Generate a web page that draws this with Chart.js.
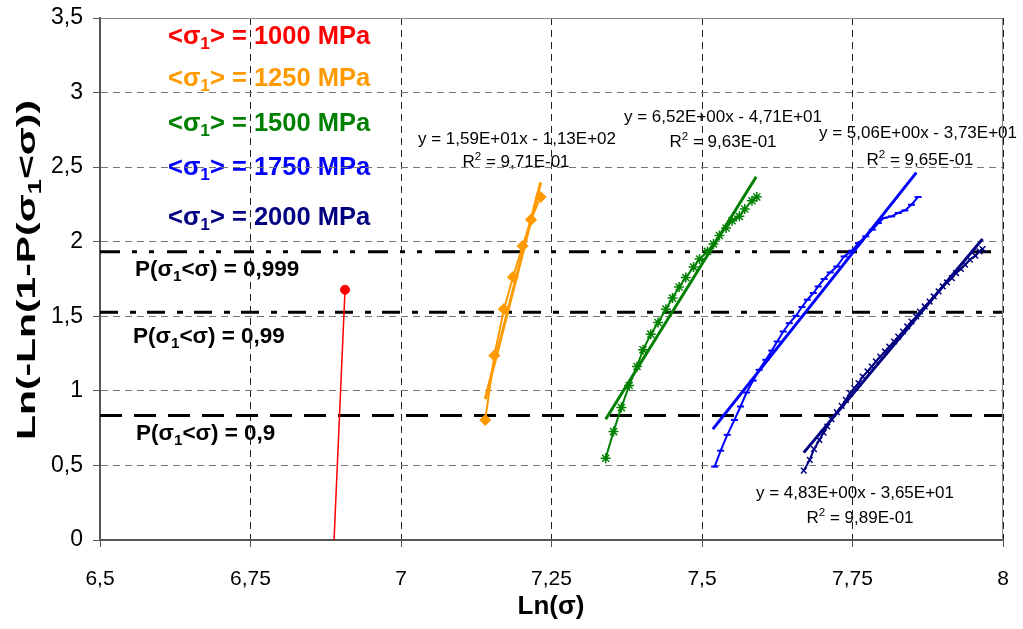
<!DOCTYPE html>
<html>
<head>
<meta charset="utf-8">
<script src="https://cdn.jsdelivr.net/npm/chart.js@4.4.1/dist/chart.umd.min.js"></script>
<style>
  html, body { margin: 0; padding: 0; background: #fff; }
  canvas { display: block; }
</style>
</head>
<body>
<canvas id="weibull" width="1023" height="629"></canvas>
<script>
const FONT = "'Liberation Sans', Arial, sans-serif";

// x = Ln(sigma), y = Ln(-Ln(1-P))
const x1000 = [6.907, 6.885];
const y1000 = [1.678, -0.35];

const x1250 = [7.140, 7.155, 7.171, 7.186, 7.202, 7.216, 7.232];
const y1250 = [0.805, 1.237, 1.548, 1.763, 1.971, 2.148, 2.300];

const x1500 = [7.340, 7.353, 7.366, 7.379, 7.392, 7.402, 7.415, 7.427, 7.440, 7.451, 7.462, 7.473,
               7.486, 7.496, 7.509, 7.519, 7.529, 7.540, 7.550, 7.562, 7.571, 7.583, 7.591];
const y1500 = [0.548, 0.727, 0.888, 1.036, 1.163, 1.275, 1.380, 1.458, 1.548, 1.622, 1.696, 1.760,
               1.830, 1.884, 1.935, 1.985, 2.042, 2.092, 2.141, 2.170, 2.219, 2.275, 2.300];

const x1750 = [7.521, 7.531, 7.542, 7.554, 7.564, 7.574, 7.585, 7.595, 7.606, 7.616, 7.625, 7.635,
               7.645, 7.656, 7.666, 7.675, 7.685, 7.693, 7.703, 7.713, 7.724, 7.736, 7.749, 7.760,
               7.772, 7.783, 7.793, 7.802, 7.815, 7.826, 7.837, 7.848, 7.859];
const y1750 = [0.492, 0.599, 0.705, 0.805, 0.895, 0.989, 1.069, 1.141, 1.208, 1.270, 1.331, 1.398,
               1.454, 1.503, 1.562, 1.611, 1.656, 1.700, 1.750, 1.794, 1.834, 1.901, 1.940, 1.991,
               2.036, 2.081, 2.125, 2.159, 2.170, 2.193, 2.210, 2.248, 2.300];

const x2000 = [7.669, 7.679, 7.686, 7.695, 7.702, 7.708, 7.715, 7.724, 7.732, 7.739, 7.746, 7.753,
               7.760, 7.767, 7.775, 7.782, 7.789, 7.796, 7.804, 7.811, 7.819, 7.826, 7.834, 7.841,
               7.848, 7.856, 7.862, 7.870, 7.878, 7.885, 7.893, 7.900, 7.907, 7.915, 7.922, 7.930,
               7.937, 7.945, 7.954, 7.961, 7.966];
const y2000 = [0.465, 0.537, 0.609, 0.671, 0.720, 0.761, 0.810, 0.857, 0.899, 0.940, 0.985, 1.018,
               1.052, 1.096, 1.130, 1.163, 1.197, 1.230, 1.264, 1.297, 1.331, 1.364, 1.398, 1.432,
               1.465, 1.499, 1.532, 1.566, 1.599, 1.633, 1.667, 1.700, 1.727, 1.756, 1.790, 1.817,
               1.846, 1.879, 1.906, 1.935, 1.951];

// linear trend lines, end points as drawn
const trendX = [[7.140, 7.232], [7.340, 7.590], [7.518, 7.856], [7.669, 7.966]];
const trendY = [[0.944, 2.398], [0.810, 2.436], [0.743, 2.463], [0.586, 2.018]];
const eqTexts = ['y = 1,59E+01x - 1,13E+02', 'y = 6,52E+00x - 4,71E+01',
                 'y = 5,06E+00x - 3,73E+01', 'y = 4,83E+00x - 3,65E+01'];
const r2Texts = ['9,71E-01', '9,63E-01', '9,65E-01', '9,89E-01'];

// probability levels
const pLabels = ['0,999', '0,99', '0,9'];
const pLineY = [1.933, 1.527, 0.834];

const stressLabels = ['1000', '1250', '1500', '1750', '2000'];
const colors = ['#ff0000', '#ff9900', '#008000', '#0000ff', '#000080'];

const pts = (xs, ys) => xs.map((x, i) => ({ x: x, y: ys[i] }));
const comma = v => String(Math.round(v * 100) / 100).replace('.', ',');

const seriesX = [x1000, x1250, x1500, x1750, x2000];
const seriesY = [y1000, y1250, y1500, y1750, y2000];
const markers = ['circle', 'rectRot', 'star', 'line', 'crossRot'];
const markerSize = [4.5, 5, 5, 3.5, 4];

const datasets = [];
pLineY.forEach((y, i) => {
  datasets.push({
    data: [{ x: 6.5, y: y }, { x: 8, y: y }],
    showLine: true, pointRadius: 0, borderColor: '#000', borderWidth: 3,
    borderDash: [[20, 12, 5, 12, 5, 13], [18, 12, 6, 11], [22, 12]][i],
    order: 5
  });
});
seriesX.forEach((xs, i) => {
  datasets.push({
    data: pts(xs, seriesY[i]),
    showLine: true, borderColor: colors[i], backgroundColor: colors[i],
    borderWidth: i === 0 ? 1.5 : 2,
    pointStyle: markers[i], pointRadius: markerSize[i], pointBorderWidth: i === 0 ? 1 : (i === 3 ? 2 : 1.5),
    pointBorderColor: colors[i], pointBackgroundColor: colors[i],
    order: 2
  });
});
trendX.forEach((xs, i) => {
  datasets.push({
    data: pts(xs, trendY[i]),
    showLine: true, pointRadius: 0, borderColor: colors[i + 1], borderWidth: 3,
    order: 1
  });
});

// rich text with sub/superscripts
function richText(ctx, parts, x, y, size, weight, color, align) {
  const font = s => `${weight} ${s}px ${FONT}`;
  const sz = p => p[1] ? size * 0.68 : size;
  let w = 0;
  parts.forEach(p => { ctx.font = font(sz(p)); w += ctx.measureText(p[0]).width; });
  let cx = align === 'center' ? x - w / 2 : align === 'right' ? x - w : x;
  ctx.fillStyle = color;
  ctx.textBaseline = 'middle';
  ctx.textAlign = 'left';
  parts.forEach(p => {
    ctx.font = font(sz(p));
    const dy = p[1] === 'sub' ? size * 0.3 : p[1] === 'sup' ? -size * 0.32 : 0;
    ctx.fillText(p[0], cx, y + dy);
    cx += ctx.measureText(p[0]).width;
  });
}

const textPlugin = {
  id: 'texts',
  beforeDraw(chart) {
    const ctx = chart.ctx;
    ctx.save();
    // stress legend
    const legY = [37, 79, 124, 168, 218];
    stressLabels.forEach((s, i) => {
      richText(ctx, [['<σ', ''], ['1', 'sub'], ['> = ' + s + ' MPa', '']], 168, legY[i], 25.5, 'bold', colors[i], 'left');
    });
    // probability labels
    const pY = [270, 337, 434];
    const pX = [135, 133, 136];
    pLabels.forEach((p, i) => {
      richText(ctx, [['P(σ', ''], ['1', 'sub'], ['<σ) = ' + p, '']], pX[i], pY[i], 22.5, 'bold', '#000', 'left');
    });
    // trend equations
    const eqPos = [[517, 139], [723, 117], [918, 133], [855, 493]];
    const r2Pos = [[516, 162], [723, 142], [920, 160], [860, 518]];
    eqTexts.forEach((t, i) => {
      richText(ctx, [[t, '']], eqPos[i][0], eqPos[i][1], 17, 'normal', '#000', 'center');
      richText(ctx, [['R', ''], ['2', 'sup'], [' = ' + r2Texts[i], '']], r2Pos[i][0], r2Pos[i][1], 17, 'normal', '#000', 'center');
    });
    // axis titles
    richText(ctx, [['Ln(σ)', '']], 551, 607, 26, 'bold', '#000', 'center');
    ctx.translate(28, 270);
    ctx.rotate(-Math.PI / 2);
    ctx.scale(1.57, 1);
    richText(ctx, [['Ln(-Ln(1-P(σ', ''], ['1', 'sub'], ['<σ))', '']], 0, 0, 26, 'bold', '#000', 'center');
    ctx.restore();
  },
  afterDraw(chart) {
    const { ctx, chartArea: a } = chart;
    ctx.save();
    ctx.strokeStyle = '#888';
    ctx.lineWidth = 1;
    ctx.beginPath();
    ctx.moveTo(a.left, a.top + 0.5);
    ctx.lineTo(a.right - 0.5, a.top + 0.5);
    ctx.lineTo(a.right - 0.5, a.bottom);
    ctx.stroke();
    ctx.restore();
  }
};

new Chart(document.getElementById('weibull'), {
  type: 'scatter',
  data: { datasets: datasets },
  plugins: [textPlugin],
  options: {
    responsive: false,
    animation: false,
    layout: { padding: { top: 18, right: 20, left: 0, bottom: 0 } },
    plugins: { legend: { display: false }, tooltip: { enabled: false } },
    scales: {
      x: {
        type: 'linear', min: 6.5, max: 8,
        afterFit: s => { s.height = 89; s.paddingLeft = 0; s.paddingRight = 0; },
        ticks: { stepSize: 0.25, color: '#000', padding: 20, maxRotation: 0,
                 font: { family: FONT, size: 21 }, callback: comma },
        grid: { color: '#222', tickColor: '#555', tickLength: 7, tickBorderDash: [] },
        border: { display: true, color: '#555', width: 2, dash: [7, 5] }
      },
      y: {
        type: 'linear', min: 0, max: 3.5,
        afterFit: s => { s.width = 100; s.paddingTop = 0; s.paddingBottom = 0; },
        ticks: { stepSize: 0.5, color: '#000', padding: 10,
                 font: { family: FONT, size: 23 }, callback: comma },
        grid: { color: '#777', tickColor: '#555', tickLength: 7, tickBorderDash: [] },
        border: { display: true, color: '#555', width: 2, dash: [7, 5] }
      }
    }
  }
});
</script>
</body>
</html>
